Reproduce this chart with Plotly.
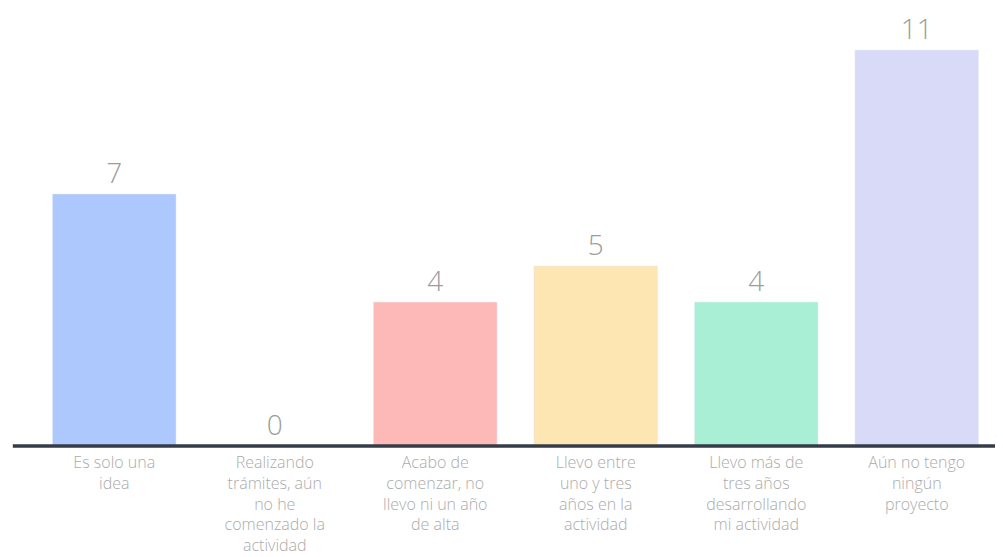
import plotly.graph_objects as go

categories = [
    "Es solo una<br>idea",
    "Realizando<br>trámites, aún<br>no he<br>comenzado la<br>actividad",
    "Acabo de<br>comenzar, no<br>llevo ni un año<br>de alta",
    "Llevo entre<br>uno y tres<br>años en la<br>actividad",
    "Llevo más de<br>tres años<br>desarrollando<br>mi actividad",
    "Aún no tengo<br>ningún<br>proyecto",
]
values = [7, 0, 4, 5, 4, 11]
colors = ["#adc8fd", "#d0d0d0", "#fdb9b8", "#fde6b2", "#a8efd6", "#d8daf8"]

fig = go.Figure(
    go.Bar(
        x=categories,
        y=values,
        marker_color=colors,
        text=[str(v) for v in values],
        textposition="outside",
        textfont=dict(size=28, color="#9c9c9c", family="Open Sans, sans-serif", weight=300),
        cliponaxis=False,
    )
)

# page body adds an 8px offset, so the figure is sized to the visible area
fig.update_layout(
    width=995,
    height=549,
    margin=dict(l=26, r=6, t=0, b=111),
    plot_bgcolor="white",
    paper_bgcolor="white",
    bargap=0.23,
    showlegend=False,
    font=dict(family="Open Sans, sans-serif", size=16, color="#ababab"),
)

fig.update_xaxes(showgrid=False, showline=False, ticks="", tickangle=0,
                 ticklabelstandoff=5,
                 tickfont=dict(size=16, color="#ababab", weight=300))
fig.update_yaxes(showgrid=False, showticklabels=False, zeroline=False,
                 range=[0, 12.17])

# dark baseline spanning the full width
fig.add_shape(type="line", xref="paper", yref="paper", x0=-0.022, x1=1.01, y0=0, y1=0,
              line=dict(color="#343c48", width=3.5))

fig.write_html("out.html")
